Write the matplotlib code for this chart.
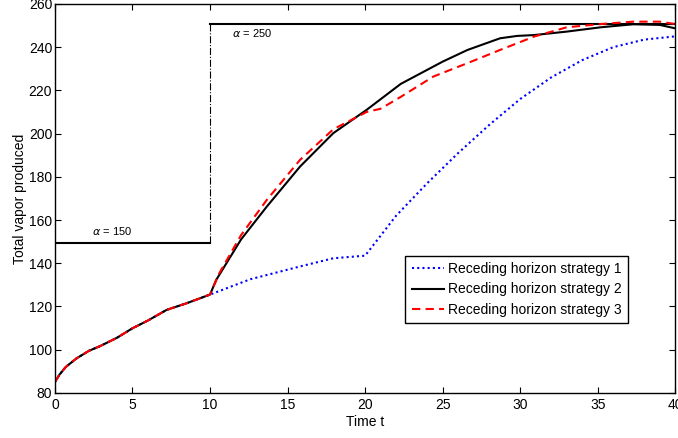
import matplotlib.pyplot as plt

plt.rcParams['font.family'] = ['Liberation Sans', 'DejaVu Sans']

# common part (all strategies identical up to t = 10)
t_early = [0, 0.3, 0.7, 1.4, 2.2, 2.9, 4, 5, 6, 7.2, 8.5, 10]
v_early = [85, 88.5, 92.0, 96.0, 99.5, 101.6, 105.5, 109.9, 113.5, 118.4, 121.5, 125.5]

# strategy 1 (blue dotted)
t_s1 = [10, 12.6, 15.8, 17.95, 20, 22, 24, 26, 28, 30, 32, 34, 36, 38, 40]
v_s1 = [125.5, 132.6, 138.5, 142.3, 143.5, 162, 177, 191, 204, 216, 226, 234, 240, 243.5, 245]

# strategy 2 (black solid)
t_s2 = [10, 10.4, 12, 13.66, 15.8, 17.95, 20.1, 22.3, 25, 26.6, 28.7, 29.8, 30.9, 33, 35.2, 37.3, 39, 40]
v_s2 = [125.5, 132.3, 151, 166.2, 184.7, 200.2, 211, 223, 233.3, 238.7, 244.1, 245.2, 245.6, 247.2, 249.2, 250.6, 250.3, 248.7]

# strategy 3 (red dashed)
t_s3 = [10, 10.6, 12, 13.66, 15.8, 17.95, 20.1, 21, 22.3, 24.4, 26.6, 28.7, 30.9, 33, 35.2, 37.3, 39, 40]
v_s3 = [125.5, 135.4, 153, 169.3, 187.8, 202, 210, 211.5, 217, 226.4, 232.6, 238.7, 244.9, 249.2, 250.7, 251.8, 251.8, 250.7]

alpha_t = [0, 10, 10, 40]
alpha_v = [149.5, 149.5, 250.7, 250.7]

fig = plt.figure(figsize=(6.78, 4.38), dpi=100)
ax = fig.add_axes([0.081, 0.103, 0.915, 0.888])

ax.plot(alpha_t[0:2], alpha_v[0:2], color='black', lw=1.5)
ax.plot(alpha_t[1:3], alpha_v[1:3], color='black', lw=0.8, linestyle='-.')
ax.plot(alpha_t[2:4], alpha_v[2:4], color='black', lw=1.5)
ax.text(2.4, 155, r'$\alpha$ = 150', fontsize=8, va='center')
ax.text(11.4, 246.6, r'$\alpha$ = 250', fontsize=8, va='center')

ax.plot(t_early + t_s1[1:], v_early + v_s1[1:], color='blue', lw=1.5,
        linestyle=(0, (1, 1.5)), label='Receding horizon strategy 1')
ax.plot(t_early + t_s2[1:], v_early + v_s2[1:], color='black', lw=1.5,
        label='Receding horizon strategy 2')
ax.plot(t_early + t_s3[1:], v_early + v_s3[1:], color='red', lw=1.5,
        linestyle=(0, (4, 2.5)), label='Receding horizon strategy 3')

ax.set_xlim(0, 40)
ax.set_ylim(80, 260)
ax.set_xticks(range(0, 41, 5))
ax.set_yticks(range(80, 261, 20))
ax.tick_params(direction='in', top=True, right=True, labelsize=10, length=4)
ax.tick_params(axis='x', pad=4)
ax.tick_params(axis='y', pad=2)
for s in ax.spines.values():
    s.set_linewidth(1.0)
ax.set_xlabel('Time t', fontsize=10, labelpad=2)
ax.set_ylabel('Total vapor produced', fontsize=10, labelpad=1)

leg = ax.legend(loc='upper left', bbox_to_anchor=(0.565, 0.352), fontsize=10,
                fancybox=False, edgecolor='black', framealpha=1,
                handlelength=2.3, handletextpad=0.3, labelspacing=0.45,
                borderpad=0.45, borderaxespad=0)
leg.get_frame().set_linewidth(1.0)

fig.savefig('out.png', dpi=100)
